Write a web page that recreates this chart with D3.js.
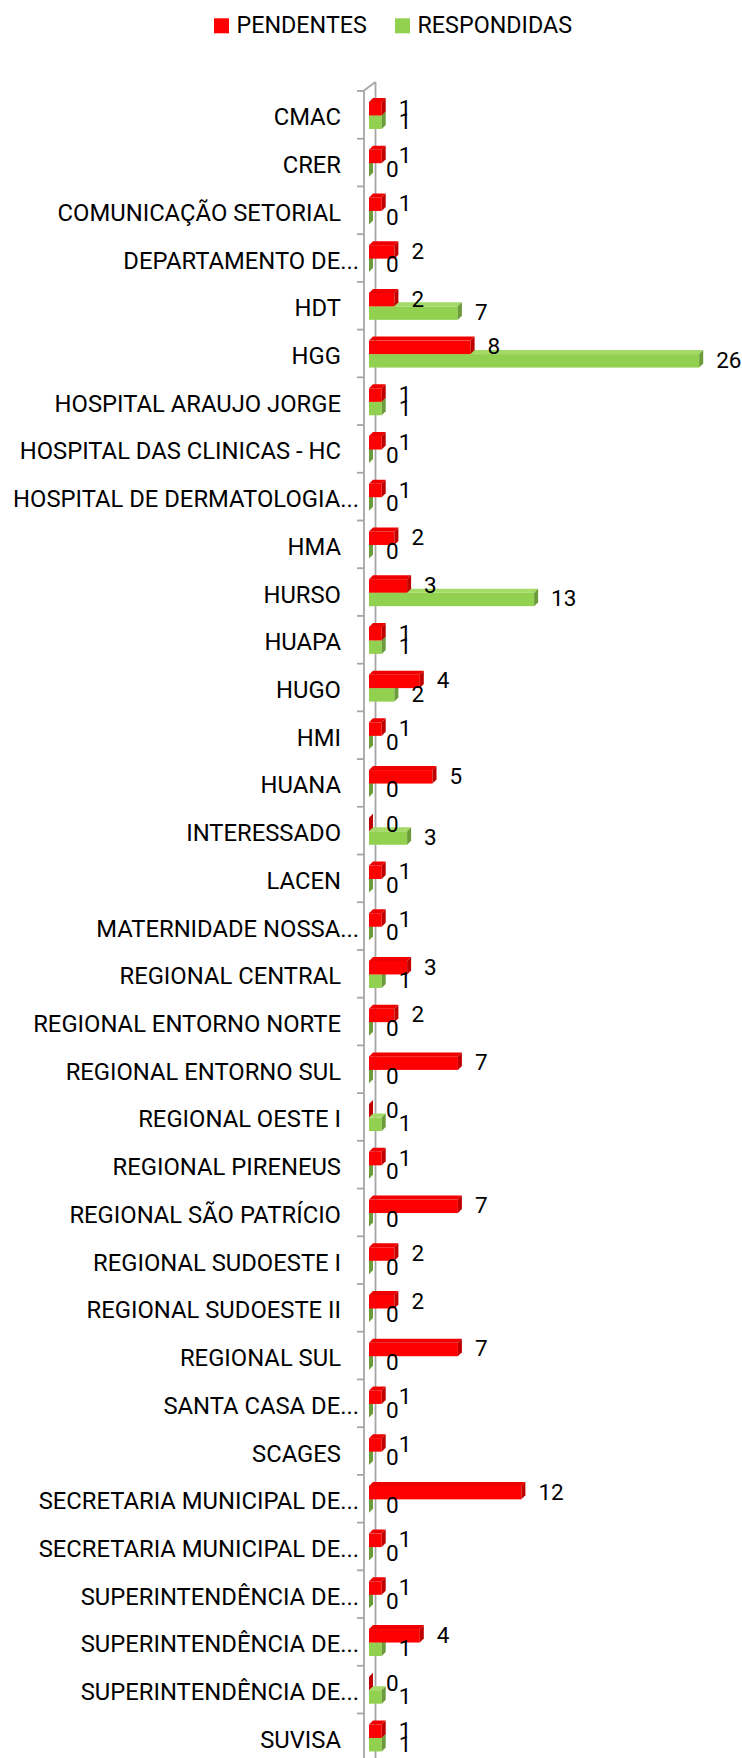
<!DOCTYPE html>
<html>
<head>
<meta charset="utf-8">
<script src="https://cdn.jsdelivr.net/npm/d3@7"></script>
<style>
  html, body { margin: 0; padding: 0; background: #ffffff; }
  svg { display: block; }
  text { font-family: Roboto, "Liberation Sans", sans-serif; fill: #000; }
</style>
</head>
<body>
<script>
const categories = [
  "CMAC", "CRER", "COMUNICAÇÃO SETORIAL", "DEPARTAMENTO DE...", "HDT", "HGG",
  "HOSPITAL ARAUJO JORGE", "HOSPITAL DAS CLINICAS - HC", "HOSPITAL DE DERMATOLOGIA...",
  "HMA", "HURSO", "HUAPA", "HUGO", "HMI", "HUANA", "INTERESSADO", "LACEN",
  "MATERNIDADE NOSSA...", "REGIONAL CENTRAL", "REGIONAL ENTORNO NORTE",
  "REGIONAL ENTORNO SUL", "REGIONAL OESTE I", "REGIONAL PIRENEUS",
  "REGIONAL SÃO PATRÍCIO", "REGIONAL SUDOESTE I", "REGIONAL SUDOESTE II",
  "REGIONAL SUL", "SANTA CASA DE...", "SCAGES", "SECRETARIA MUNICIPAL DE...",
  "SECRETARIA MUNICIPAL DE...", "SUPERINTENDÊNCIA DE...", "SUPERINTENDÊNCIA DE...",
  "SUPERINTENDÊNCIA DE...", "SUVISA"
];
const pendentes = [1,1,1,2,2,8,1,1,1,2,3,1,4,1,5,0,1,1,3,2,7,0,1,7,2,2,7,1,1,12,1,1,4,0,1];
const respondidas = [1,0,0,0,7,26,1,0,0,0,13,1,2,0,0,3,0,0,1,0,0,1,0,0,0,0,0,0,0,0,0,0,1,1,1];
const seriesNames = ["PENDENTES", "RESPONDIDAS"];
const seriesColors = { PENDENTES: ["#FF0000", "#EE0000", "#C00000"], RESPONDIDAS: ["#92D050", "#A4DA68", "#6B9B3A"] };

const W = 742, H = 1758;
const svg = d3.select("body").append("svg").attr("width", W).attr("height", H);

const top0 = 91, step = 47.72;
const idx = d3.range(categories.length);
const y = d3.scaleBand().domain(idx).range([top0, top0 + step * categories.length]).padding(0);
const inner = d3.scaleBand().domain(seriesNames).range([0, y.bandwidth()])
  .paddingInner(0).paddingOuter(0.77).align(0.53);
const x = d3.scaleLinear().domain([0, 30]).range([369, 369 + 30 * 12.7]);

const axisX = 364, backX = 375.5, axisTopY = 90.5, backTopY = 82;
const gray = "#A6A6A6";

// 3D axis wall lines
const axisG = svg.append("g");
axisG.append("line").attr("x1", backX).attr("x2", backX).attr("y1", backTopY).attr("y2", H)
  .attr("stroke", gray).attr("stroke-width", 1.8);
axisG.append("line").attr("x1", axisX).attr("y1", axisTopY).attr("x2", backX).attr("y2", backTopY)
  .attr("stroke", gray).attr("stroke-width", 1.8);
axisG.append("line").attr("x1", axisX).attr("x2", axisX).attr("y1", axisTopY).attr("y2", H)
  .attr("stroke", gray).attr("stroke-width", 1.8);
// ticks at category boundaries
const bounds = d3.range(categories.length + 1).map(i => top0 + i * y.step());
axisG.selectAll("line.tick").data(bounds).join("line").attr("class", "tick")
  .attr("x1", axisX - 7).attr("x2", axisX).attr("y1", d => d).attr("y2", d => d)
  .attr("stroke", gray).attr("stroke-width", 1.8);

// category labels
svg.append("g").selectAll("text").data(idx).join("text")
  .attr("x", i => categories[i].endsWith("...") ? 359 : 341)
  .attr("y", i => y(i) + y.bandwidth() / 2 + 10.5)
  .attr("text-anchor", "end")
  .style("font-size", "23.8px")
  .text(i => categories[i]);

// 3D bars
const d = 4;
const bars = [];
idx.forEach(i => bars.push({ s: "RESPONDIDAS", i, v: respondidas[i] }));
idx.forEach(i => bars.push({ s: "PENDENTES", i, v: pendentes[i] }));
const barG = svg.append("g");
bars.forEach(b => {
  const x0 = x(0), x1 = x(b.v);
  const y0 = y(b.i) + inner(b.s), h = inner.bandwidth();
  const [cFront, cTop, cSide] = seriesColors[b.s];
  const g = barG.append("g");
  if (x1 > x0) {
    g.append("rect").attr("x", x0).attr("y", y0).attr("width", x1 - x0).attr("height", h).attr("fill", cFront);
    g.append("polygon").attr("points", [[x0, y0], [x0 + d, y0 - d], [x1 + d, y0 - d], [x1, y0]].join(" "))
      .attr("fill", cTop);
  }
  g.append("polygon").attr("points", [[x1, y0], [x1 + d, y0 - d], [x1 + d, y0 + h - d], [x1, y0 + h]].join(" "))
    .attr("fill", cSide);
});

// value labels
svg.append("g").selectAll("text").data(bars).join("text")
  .attr("x", b => x(b.v) + 17)
  .attr("y", b => y(b.i) + inner(b.s) + inner.bandwidth() / 2 + 7)
  .style("font-size", "22.5px")
  .text(b => b.v);

// legend
const legend = svg.append("g");
const legX = { PENDENTES: 214, RESPONDIDAS: 395 };
seriesNames.forEach(s => {
  legend.append("rect").attr("x", legX[s]).attr("y", 18.3).attr("width", 15).attr("height", 15)
    .attr("fill", seriesColors[s][0]);
  legend.append("text").attr("x", legX[s] + 22.5).attr("y", 33.3)
    .style("font-size", "23.3px").text(s);
});
</script>
</body>
</html>
